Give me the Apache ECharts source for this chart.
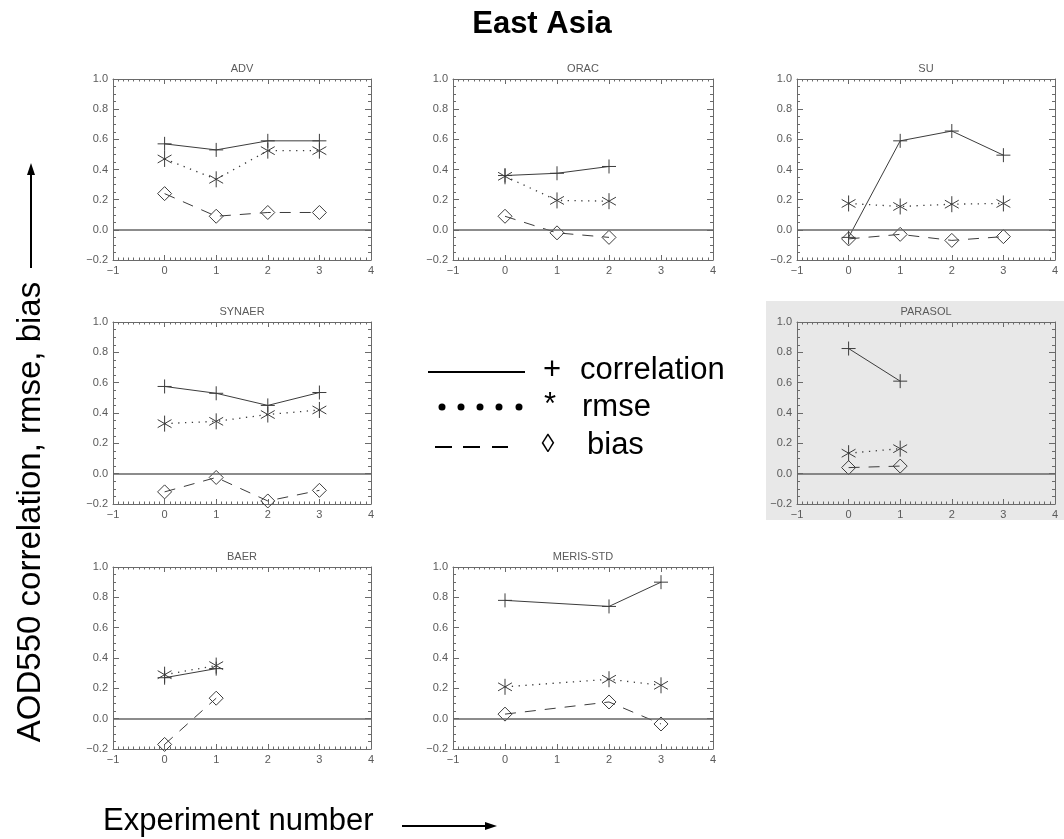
<!DOCTYPE html>
<html><head><meta charset="utf-8">
<script src="https://cdn.jsdelivr.net/npm/echarts@6/dist/echarts.min.js"></script>
<style>html,body{margin:0;padding:0;background:#fff}#c{width:1064px;height:839px}</style>
</head><body><div id="c"></div>
<script>
// ---- data ----
const panelNames = ['ADV', 'ORAC', 'SU', 'SYNAER', 'PARASOL', 'BAER', 'MERIS-STD'];
const xTicks = [-1, 0, 1, 2, 3, 4];
const yTicks = [-0.2, 0.0, 0.2, 0.4, 0.6, 0.8, 1.0];

const ADV_x = [0, 1, 2, 3];
const ADV_corr = [0.57, 0.53, 0.59, 0.59];
const ADV_rmse = [0.47, 0.335, 0.525, 0.525];
const ADV_bias = [0.24, 0.09, 0.115, 0.115];

const ORAC_x = [0, 1, 2];
const ORAC_corr = [0.36, 0.375, 0.42];
const ORAC_rmse = [0.355, 0.195, 0.19];
const ORAC_bias = [0.09, -0.02, -0.05];

const SU_x = [0, 1, 2, 3];
const SU_corr = [-0.05, 0.59, 0.655, 0.495];
const SU_rmse = [0.175, 0.155, 0.17, 0.175];
const SU_bias = [-0.06, -0.03, -0.07, -0.045];

const SYNAER_x = [0, 1, 2, 3];
const SYNAER_corr = [0.575, 0.53, 0.45, 0.535];
const SYNAER_rmse = [0.33, 0.345, 0.39, 0.42];
const SYNAER_bias = [-0.12, -0.025, -0.18, -0.11];

const PARASOL_x = [0, 1];
const PARASOL_corr = [0.825, 0.61];
const PARASOL_rmse = [0.135, 0.165];
const PARASOL_bias = [0.04, 0.05];

const BAER_x = [0, 1];
const BAER_corr = [0.27, 0.33];
const BAER_rmse = [0.29, 0.35];
const BAER_bias = [-0.17, 0.135];

const MERIS_x = [0, 2, 3];
const MERIS_corr = [0.78, 0.74, 0.9];
const MERIS_rmse = [0.21, 0.26, 0.22];
const MERIS_bias = [0.03, 0.11, -0.035];

const legendLabels = ['correlation', 'rmse', 'bias'];
const legendSymbols = ['+', '*', '\u25CA'];

// ---- layout ----
const panelData = [
  [ADV_x, ADV_corr, ADV_rmse, ADV_bias],
  [ORAC_x, ORAC_corr, ORAC_rmse, ORAC_bias],
  [SU_x, SU_corr, SU_rmse, SU_bias],
  [SYNAER_x, SYNAER_corr, SYNAER_rmse, SYNAER_bias],
  [PARASOL_x, PARASOL_corr, PARASOL_rmse, PARASOL_bias],
  [BAER_x, BAER_corr, BAER_rmse, BAER_bias],
  [MERIS_x, MERIS_corr, MERIS_rmse, MERIS_bias]
];
const gridBoxes = [
  {left: 113, top: 79, width: 258, height: 181},
  {left: 453, top: 79, width: 260, height: 181},
  {left: 797, top: 79, width: 258, height: 181},
  {left: 113, top: 322, width: 258, height: 182},
  {left: 797, top: 322, width: 258, height: 182},
  {left: 113, top: 567, width: 258, height: 182},
  {left: 453, top: 567, width: 260, height: 182}
];

const AX = '#6a6a6a', LBL = '#5a5a5a', LN = '#3c3c3c';
const FONT = '"Liberation Sans", Arial, sans-serif';
const plusPath = 'path://M5,0L5,10M0,5L10,5';
const starPath = 'path://M5,0L5,10M0.67,2.5L9.33,7.5M0.67,7.5L9.33,2.5';

function fmtX(v) { return (Math.abs(v) < 1e-9 ? '0' : String(Math.round(v))).replace('-', '\u2212'); }
function fmtY(v) { return (Math.abs(v) < 1e-9 ? '0.0' : v.toFixed(1)).replace('-', '\u2212'); }

const grid = [], xAxis = [], yAxis = [], series = [], graphic = [];

gridBoxes.forEach((b, i) => {
  grid.push(Object.assign({show: false, containLabel: false}, b));
  const common = {
    gridIndex: i, type: 'value', splitLine: {show: false},
    axisLine: {show: true, onZero: false, lineStyle: {color: AX, width: 1}},
    axisTick: {show: true, inside: true, length: 5, lineStyle: {color: AX}},
    minorTick: {show: true, inside: true, length: 2.5, lineStyle: {color: AX}},
    silent: true
  };
  const xc = Object.assign({}, common, {min: xTicks[0], max: xTicks[xTicks.length - 1], interval: 1,
    minorTick: Object.assign({}, common.minorTick, {splitNumber: 10})});
  xAxis.push(Object.assign({}, xc, {position: 'bottom',
    axisLabel: {show: true, color: LBL, fontSize: 11, fontFamily: FONT, margin: 5, formatter: fmtX}}));
  xAxis.push(Object.assign({}, xc, {position: 'top', axisLabel: {show: false}}));
  const yc = Object.assign({}, common, {min: yTicks[0], max: yTicks[yTicks.length - 1], interval: 0.2,
    axisTick: Object.assign({}, common.axisTick, {length: 6}),
    minorTick: Object.assign({}, common.minorTick, {splitNumber: 4, length: 3})});
  yAxis.push(Object.assign({}, yc, {position: 'left',
    axisLabel: {show: true, color: LBL, fontSize: 11, fontFamily: FONT, margin: 5, formatter: fmtY}}));
  yAxis.push(Object.assign({}, yc, {position: 'right', axisLabel: {show: false}}));

  const [xs, corr, rmse, bias] = panelData[i];
  const zip = arr => xs.map((x, k) => [x, arr[k]]);
  const base = {type: 'line', xAxisIndex: 2 * i, yAxisIndex: 2 * i, silent: true,
    emphasis: {disabled: true}, animation: false, clip: false, symbolKeepAspect: true};
  series.push(Object.assign({}, base, {
    name: 'correlation ' + panelNames[i], data: zip(corr), symbol: plusPath, symbolSize: 14,
    itemStyle: {color: 'rgba(0,0,0,0)', borderColor: LN, borderWidth: 1},
    lineStyle: {color: LN, width: 1, type: 'solid'},
    markLine: {silent: true, symbol: ['none', 'none'], label: {show: false}, animation: false,
      lineStyle: {color: '#666', width: 1.5, type: 'solid'}, data: [{yAxis: 0}]}
  }));
  series.push(Object.assign({}, base, {
    name: 'rmse ' + panelNames[i], data: zip(rmse), symbol: starPath, symbolSize: 16,
    itemStyle: {color: 'rgba(0,0,0,0)', borderColor: LN, borderWidth: 1},
    lineStyle: {color: LN, width: 1.3, type: [1.3, 5.5]}
  }));
  series.push(Object.assign({}, base, {
    name: 'bias ' + panelNames[i], data: zip(bias), symbol: 'diamond', symbolSize: 14,
    itemStyle: {color: 'rgba(0,0,0,0)', borderColor: LN, borderWidth: 1},
    lineStyle: {color: LN, width: 1, type: [11, 9]}
  }));

  graphic.push({type: 'text', x: b.left + b.width / 2, y: b.top - 10, silent: true,
    style: {text: panelNames[i], fill: LBL, font: '11px ' + FONT, textAlign: 'center', textVerticalAlign: 'middle'}});
});

// gray background behind PARASOL panel
graphic.unshift({type: 'rect', z: -10, silent: true, shape: {x: 766, y: 301, width: 298, height: 219},
  style: {fill: '#e8e8e8'}});

// main title
graphic.push({type: 'text', x: 542, y: 24, silent: true,
  style: {text: 'East Asia', fill: '#000', font: 'bold 31px ' + FONT, textAlign: 'center', textVerticalAlign: 'middle'}});

// y label + arrow
graphic.push({type: 'text', x: 31, y: 512, rotation: Math.PI / 2, silent: true,
  style: {text: 'AOD550 correlation, rmse, bias', fill: '#000', font: '33px ' + FONT, textAlign: 'center', textVerticalAlign: 'middle'}});
graphic.push({type: 'line', silent: true, shape: {x1: 31, y1: 268, x2: 31, y2: 172}, style: {stroke: '#000', lineWidth: 2}});
graphic.push({type: 'polygon', silent: true, shape: {points: [[31, 163], [27, 175], [35, 175]]}, style: {fill: '#000'}});

// x label + arrow
graphic.push({type: 'text', x: 103, y: 821, silent: true,
  style: {text: 'Experiment number', fill: '#000', font: '31px ' + FONT, textAlign: 'left', textVerticalAlign: 'middle'}});
graphic.push({type: 'line', silent: true, shape: {x1: 402, y1: 826, x2: 488, y2: 826}, style: {stroke: '#000', lineWidth: 2}});
graphic.push({type: 'polygon', silent: true, shape: {points: [[497, 826], [485, 822], [485, 830]]}, style: {fill: '#000'}});

// legend
graphic.push({type: 'line', silent: true, shape: {x1: 428, y1: 372, x2: 525, y2: 372}, style: {stroke: '#000', lineWidth: 2}});
[442, 461, 480, 499, 519].forEach(cx => graphic.push({type: 'circle', silent: true, shape: {cx: cx, cy: 407, r: 3.5}, style: {fill: '#000'}}));
[[435, 452], [463, 480], [492, 508]].forEach(s => graphic.push({type: 'line', silent: true,
  shape: {x1: s[0], y1: 447, x2: s[1], y2: 447}, style: {stroke: '#000', lineWidth: 2}}));
const legY = [370, 407, 445], symX = [552, 550, 548], txtX = [580, 582, 587], symY = [370, 405, 445];
legendLabels.forEach((t, k) => {
  graphic.push({type: 'text', x: symX[k], y: symY[k], silent: true,
    style: {text: legendSymbols[k], fill: '#000', font: (k === 2 ? '26px ' : '31px ') + FONT, textAlign: 'center', textVerticalAlign: 'middle'}});
  graphic.push({type: 'text', x: txtX[k], y: legY[k], silent: true,
    style: {text: t, fill: '#000', font: '31px ' + FONT, textAlign: 'left', textVerticalAlign: 'middle'}});
});

const chart = echarts.init(document.getElementById('c'), null, {renderer: 'canvas'});
chart.setOption({animation: false, backgroundColor: '#fff', grid, xAxis, yAxis, series, graphic});
</script></body></html>
